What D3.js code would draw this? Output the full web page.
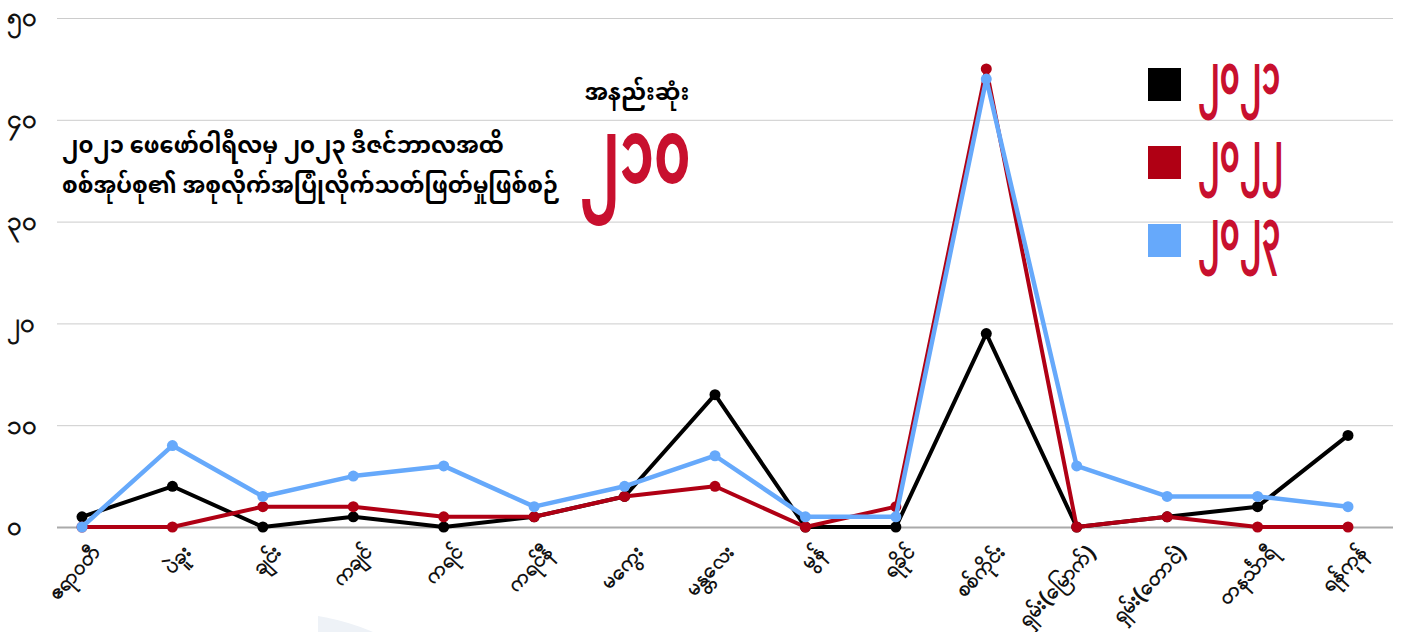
<!DOCTYPE html>
<html>
<head>
<meta charset="utf-8">
<script src="https://cdn.jsdelivr.net/npm/d3@7"></script>
<style>
  body { margin: 0; background: #fff; }
  svg { display: block; font-family: "Noto Sans Myanmar", "Padauk", "Myanmar Text", "Noto Sans", sans-serif; }
</style>
</head>
<body>
<svg id="chart"></svg>
<script>
// ==============================
// DATA
// ==============================
const regions = ["ဧရာဝတီ", "ပဲခူး", "ချင်း", "ကချင်", "ကရင်", "ကရင်နီ", "မကွေး", "မန္တလေး", "မွန်", "ရခိုင်", "စစ်ကိုင်း", "ရှမ်း(မြောက်)", "ရှမ်း(တောင်)", "တနင်္သာရီ", "ရန်ကုန်"];
const values2021 = [1, 4, 0, 1, 0, 1, 3, 13, 0, 0, 19, 0, 1, 2, 9];
const values2022 = [0, 0, 2, 2, 1, 1, 3, 4, 0, 2, 45, 0, 1, 0, 0];
const values2023 = [0, 8, 3, 5, 6, 2, 4, 7, 1, 1, 44, 6, 3, 3, 2];
const yearLabels = ["၂၀၂၁", "၂၀၂၂", "၂၀၂၃"];
const yTicks = [0, 10, 20, 30, 40, 50];
const yTickLabels = ["၀", "၁၀", "၂၀", "၃၀", "၄၀", "၅၀"];
const titleLines = ["၂၀၂၁ ဖေဖော်ဝါရီလမှ ၂၀၂၃ ဒီဇင်ဘာလအထိ", "စစ်အုပ်စု၏ အစုလိုက်အပြုံလိုက်သတ်ဖြတ်မှုဖြစ်စဉ်"];
const atLeastLabel = "အနည်းဆုံး";
const totalLabel = "၂၁၀";

const series = [
  { name: yearLabels[0], values: values2021, color: "#000000", width: 4 },
  { name: yearLabels[1], values: values2022, color: "#b00014", width: 4 },
  { name: yearLabels[2], values: values2023, color: "#66a9fb", width: 4.5 }
];

// ==============================
// SVG
// ==============================
const width = 1404, height = 632;
const svg = d3.select("#chart").attr("width", width).attr("height", height);

const x = d3.scalePoint().domain(regions).range([82, 1348]);
const y = d3.scaleLinear().domain([0, 50]).range([527, 18]);

// faint watermark shape at the bottom
svg.append("clipPath").attr("id", "wm-clip")
  .append("rect").attr("x", 318).attr("y", 0).attr("width", 400).attr("height", height);
svg.append("circle")
  .attr("cx", 280).attr("cy", 850)
  .attr("r", 237)
  .attr("fill", "#eef2f7")
  .attr("clip-path", "url(#wm-clip)");

// ==============================
// AXES / GRID
// ==============================
const yAxis = d3.axisLeft(y)
  .tickValues(yTicks)
  .tickSize(-(1393 - 57))
  .tickFormat((d, i) => yTickLabels[i]);

const yg = svg.append("g")
  .attr("transform", "translate(57,0)")
  .call(yAxis);
yg.select(".domain").remove();
yg.selectAll(".tick line")
  .attr("stroke", d => d === 0 ? "#aaaaaa" : "#cccccc")
  .attr("stroke-width", d => d === 0 ? 2 : 1);
yg.selectAll(".tick text")
  .attr("x", -50)
  .attr("dy", "0.3em")
  .attr("text-anchor", "start")
  .attr("font-size", 26)
  .attr("font-weight", "bold")
  .attr("fill", "#111");

const xg = svg.append("g")
  .attr("transform", "translate(0,527)")
  .call(d3.axisBottom(x).tickSize(0));
xg.select(".domain").remove();
xg.selectAll(".tick text")
  .attr("font-size", 21)
  .attr("font-weight", "bold")
  .attr("fill", "#111")
  .attr("text-anchor", "end")
  .attr("dy", "0")
  .attr("transform", "translate(17,24) rotate(-47)");

// ==============================
// LINES
// ==============================
const line = d3.line()
  .x((d, i) => x(regions[i]))
  .y(d => y(d));

const sg = svg.selectAll("g.series")
  .data(series)
  .enter()
  .append("g")
  .attr("class", "series");

sg.append("path")
  .attr("d", d => line(d.values))
  .attr("fill", "none")
  .attr("stroke", d => d.color)
  .attr("stroke-width", d => d.width)
  .attr("stroke-linejoin", "round");

sg.selectAll("circle")
  .data(d => d.values.map((v, i) => ({ v, i, color: d.color })))
  .enter()
  .append("circle")
  .attr("cx", d => x(regions[d.i]))
  .attr("cy", d => y(d.v))
  .attr("r", 5.5)
  .attr("fill", d => d.color);

// ==============================
// TITLE + TOTAL
// ==============================
svg.append("g")
  .selectAll("text")
  .data(titleLines)
  .enter()
  .append("text")
  .attr("x", 62)
  .attr("y", (d, i) => 153 + i * 40)
  .attr("font-size", 22.5)
  .attr("font-weight", "bold")
  .attr("fill", "#000")
  .text(d => d);

svg.append("text")
  .attr("x", 637).attr("y", 100)
  .attr("text-anchor", "middle")
  .attr("font-size", 23)
  .attr("font-weight", "bold")
  .text(atLeastLabel);

svg.append("text")
  .attr("transform", "translate(635,183) scale(0.56,0.92)")
  .attr("text-anchor", "middle")
  .attr("font-size", 98)
  .attr("font-weight", "bold")
  .attr("fill", "#c8102e")
  .text(totalLabel);

// ==============================
// LEGEND
// ==============================
const lg = svg.append("g")
  .selectAll("g")
  .data(series)
  .enter()
  .append("g")
  .attr("transform", (d, i) => `translate(1148,${68 + i * 78})`);

lg.append("rect")
  .attr("width", 33).attr("height", 33)
  .attr("fill", d => d.color);

lg.append("text")
  .attr("transform", "translate(50,26) scale(0.5,0.92)")
  .attr("font-size", 60)
  .attr("font-weight", "bold")
  .attr("fill", "#c8102e")
  .text(d => d.name);
</script>
</body>
</html>
